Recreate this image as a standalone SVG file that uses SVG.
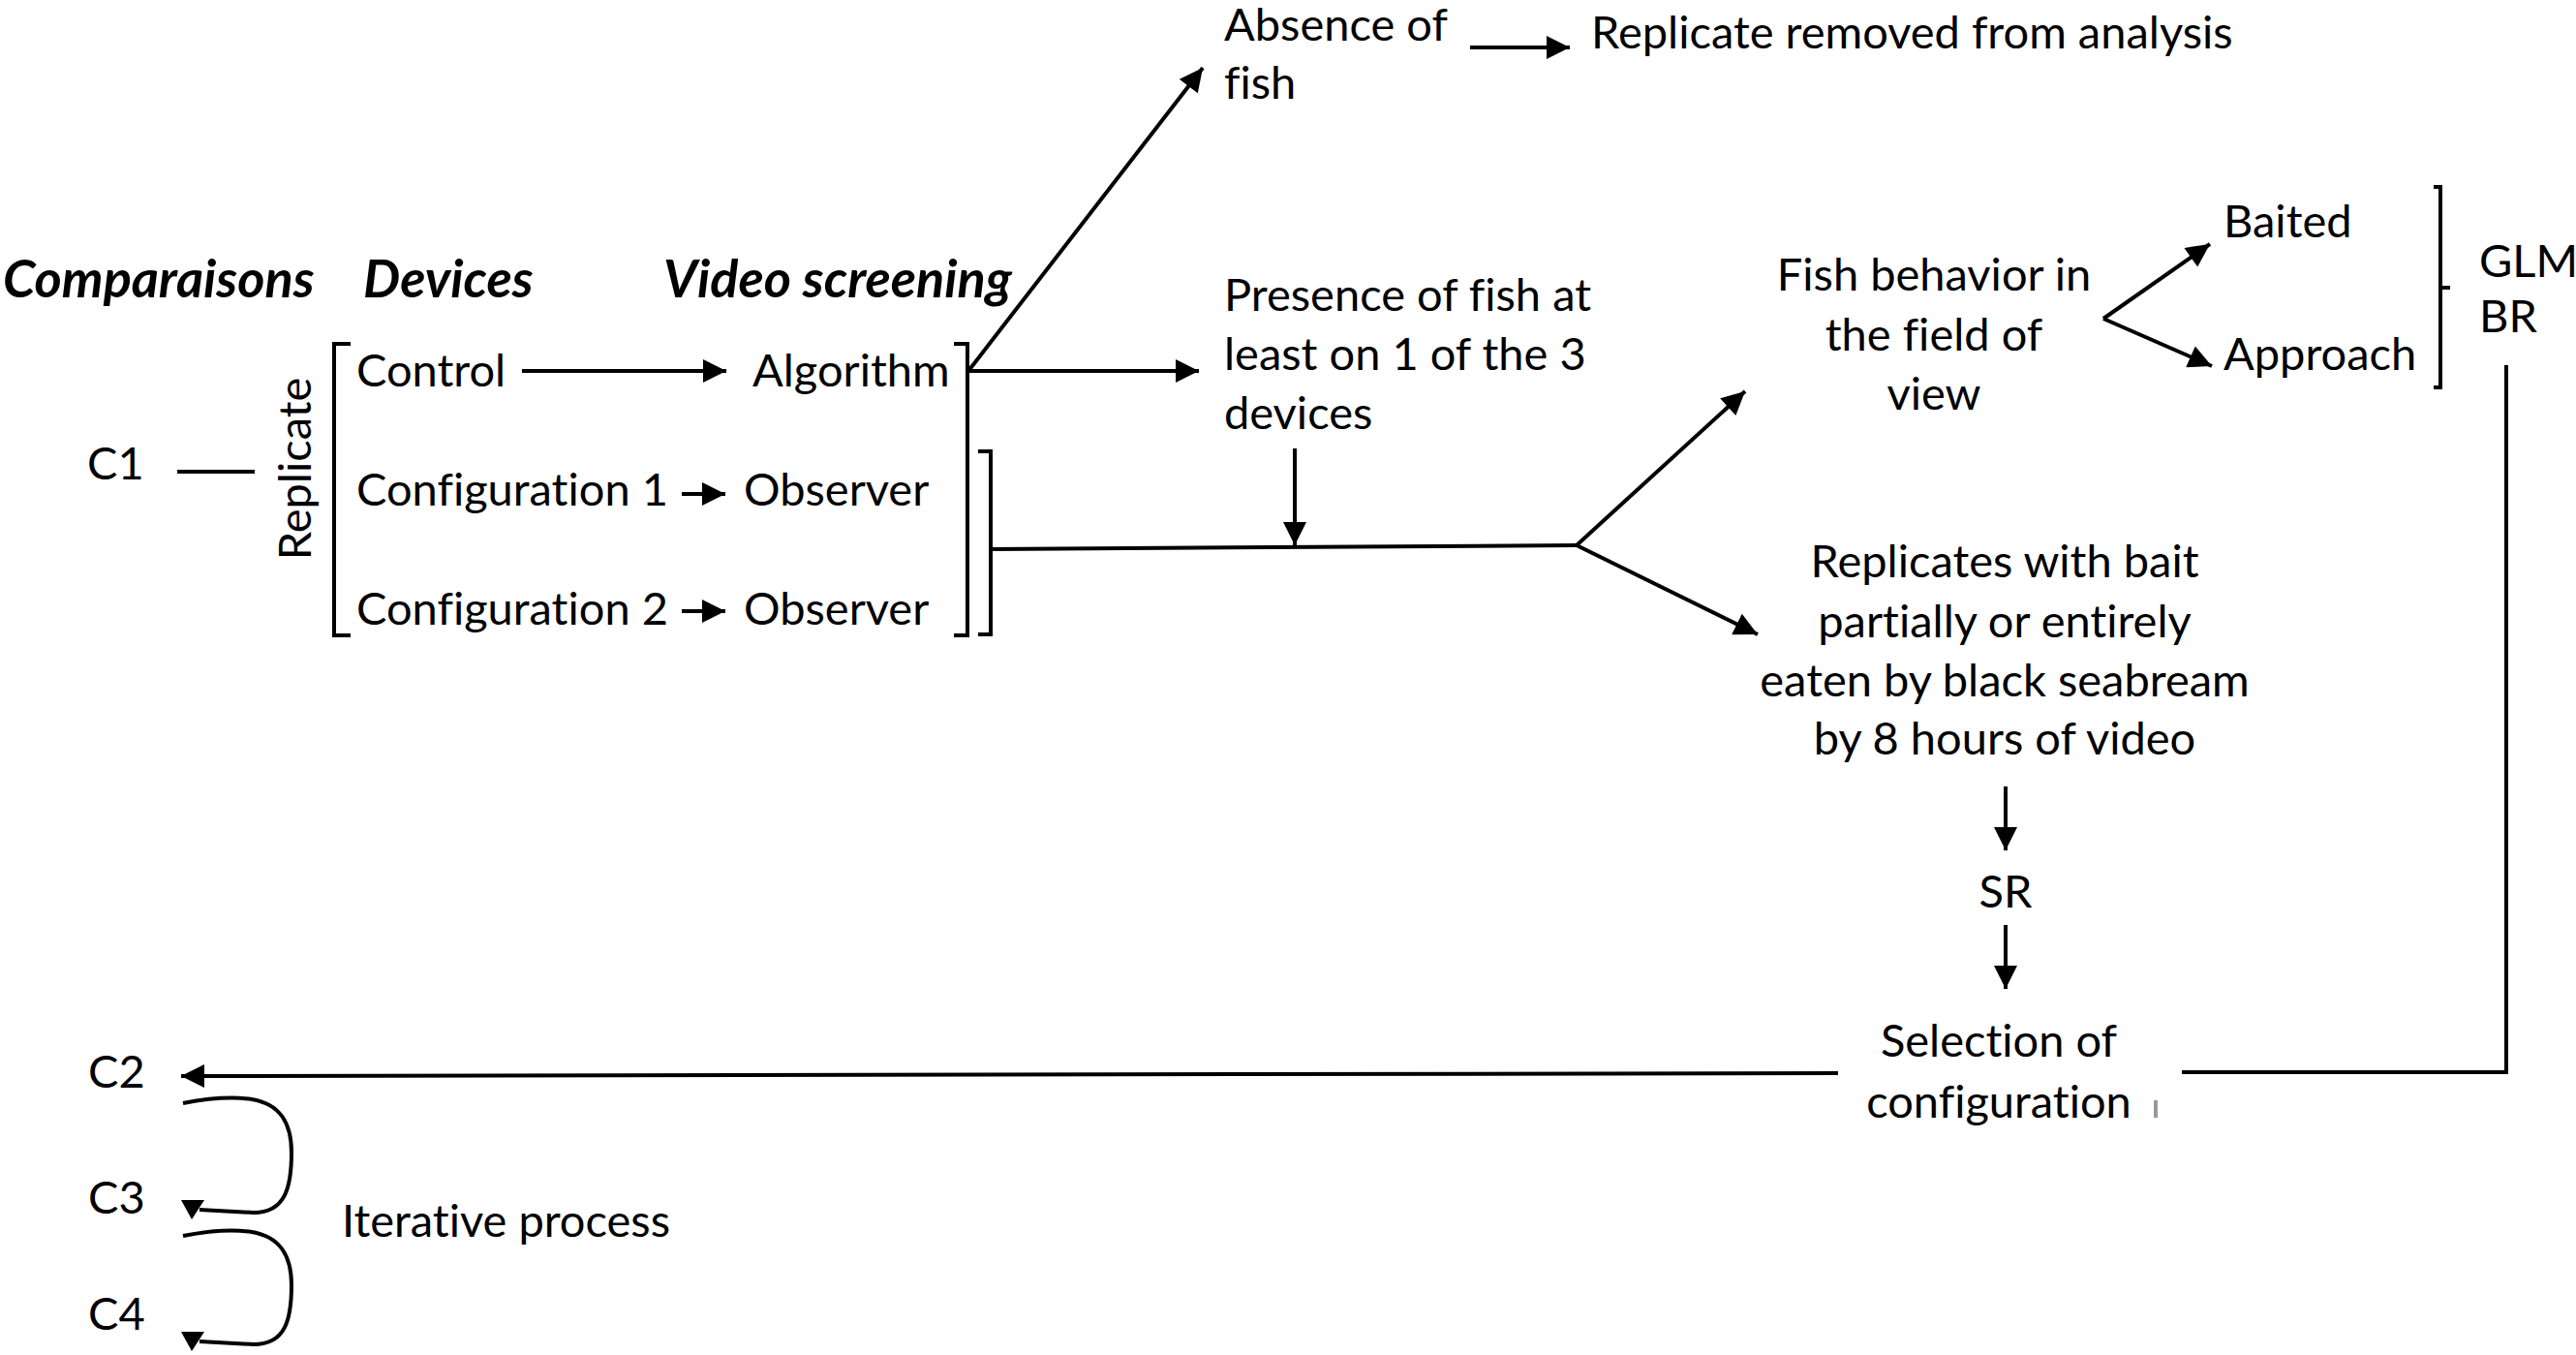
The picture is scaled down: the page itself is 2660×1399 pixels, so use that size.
<svg xmlns="http://www.w3.org/2000/svg" width="2660" height="1399" viewBox="0 0 2660 1399">
<defs>
<style>
text{font-family:Lato,"Open Sans","Liberation Sans",sans-serif;font-size:47px;fill:#000;font-variant-ligatures:none}
.h{font-weight:bold;font-style:italic;font-size:54px}
.m{text-anchor:middle}
.ln{fill:none;stroke:#000;stroke-width:4}
.ar{fill:none;stroke:#000;stroke-width:4;marker-end:url(#ah)}
</style>
<marker id="ah" viewBox="0 0 10 10" refX="10" refY="5" markerWidth="30" markerHeight="24" markerUnits="userSpaceOnUse" orient="auto"><path d="M0,0 L10,5 L0,10 z" fill="#000"/></marker>
</defs>
<rect width="2660" height="1399" fill="#fff"/>
<g id="headers">
<text class="h" x="3" y="307">Comparaisons</text>
<text class="h" x="375" y="307">Devices</text>
<text class="h" x="685" y="307">Video screening</text>
</g>
<g id="c1"><text x="90" y="495">C1</text></g>
<g id="replicate"><text class="m" transform="translate(321,484) rotate(-90)">Replicate</text></g>
<g id="control"><text x="368" y="399">Control</text></g>
<g id="algorithm"><text x="777" y="399">Algorithm</text></g>
<g id="config1"><text x="368" y="522">Configuration 1</text></g>
<g id="observer1"><text x="768" y="522">Observer</text></g>
<g id="config2"><text x="368" y="645">Configuration 2</text></g>
<g id="observer2"><text x="768" y="645">Observer</text></g>
<g id="absence"><text x="1264" y="42">Absence of</text><text x="1264" y="102">fish</text></g>
<g id="removed"><text x="1643" y="50">Replicate removed from analysis</text></g>
<g id="presence"><text x="1264" y="321">Presence of fish at</text><text x="1264" y="382">least on 1 of the 3</text><text x="1264" y="443">devices</text></g>
<g id="behavior"><text class="m" x="1997" y="300">Fish behavior in</text><text class="m" x="1997" y="362">the field of</text><text class="m" x="1997" y="423">view</text></g>
<g id="baited"><text x="2296" y="245">Baited</text></g>
<g id="approach"><text x="2296" y="382">Approach</text></g>
<g id="glmbr"><text x="2560" y="286">GLM</text><text x="2560" y="343">BR</text></g>
<g id="replicates"><text class="m" x="2070" y="596">Replicates with bait</text><text class="m" x="2070" y="658">partially or entirely</text><text class="m" x="2070" y="719">eaten by black seabream</text><text class="m" x="2070" y="779">by 8 hours of video</text></g>
<g id="sr"><text class="m" x="2071" y="937">SR</text></g>
<g id="selection"><text class="m" x="2064" y="1091">Selection of</text><text class="m" x="2064" y="1154">configuration</text></g>
<g id="c2"><text x="91" y="1123">C2</text></g>
<g id="c3"><text x="91" y="1253">C3</text></g>
<g id="c4"><text x="91" y="1373">C4</text></g>
<g id="iterative"><text x="353" y="1277">Iterative process</text></g>
<g id="connectors">
<path class="ln" d="M183,487 H263"/>
<path class="ln" d="M362,355 H345 V656 H362"/>
<path class="ln" d="M985,355 H999 V656 H985"/>
<path class="ln" d="M1010,466 H1023 V655 H1010"/>
<path class="ar" d="M539,383 H750"/>
<path class="ar" d="M704,510 H749"/>
<path class="ar" d="M704,631 H749"/>
<path class="ar" d="M1000,383 L1242,70"/>
<path class="ar" d="M1000,383 H1238"/>
<path class="ar" d="M1518,49 H1621"/>
<path class="ar" d="M1337,463 V563"/>
<path class="ln" d="M1023,567 L1628,563"/>
<path class="ar" d="M1628,563 L1802,404"/>
<path class="ar" d="M1628,563 L1815,655"/>
<path class="ar" d="M2172,329 L2282,252"/>
<path class="ar" d="M2172,329 L2284,378"/>
<path class="ln" d="M2513,193 H2520 V400 H2513 M2520,297 H2530"/>
<path class="ar" d="M2071,812 V878"/>
<path class="ar" d="M2071,955 V1021"/>
<path class="ln" d="M2588,377 V1107 H2253"/>
<path class="ar" d="M1898,1108 L187,1111"/>
<path class="ln" d="M2226,1136 V1154" stroke-width="1.5" style="stroke:#999"/>
<path class="ln" d="M189,1139 C215,1134 240,1132 260,1135 C290,1140 301,1160 301,1190 C301,1225 295,1252 262,1252 L206,1249"/>
<path d="M187,1239 L211,1239 L198,1259 z"/>
<path class="ln" d="M189,1276 C215,1271 240,1269 260,1272 C290,1277 301,1297 301,1327 C301,1362 295,1388 262,1388 L206,1385"/>
<path d="M187,1375 L211,1375 L198,1395 z"/>
</g>
</svg>
